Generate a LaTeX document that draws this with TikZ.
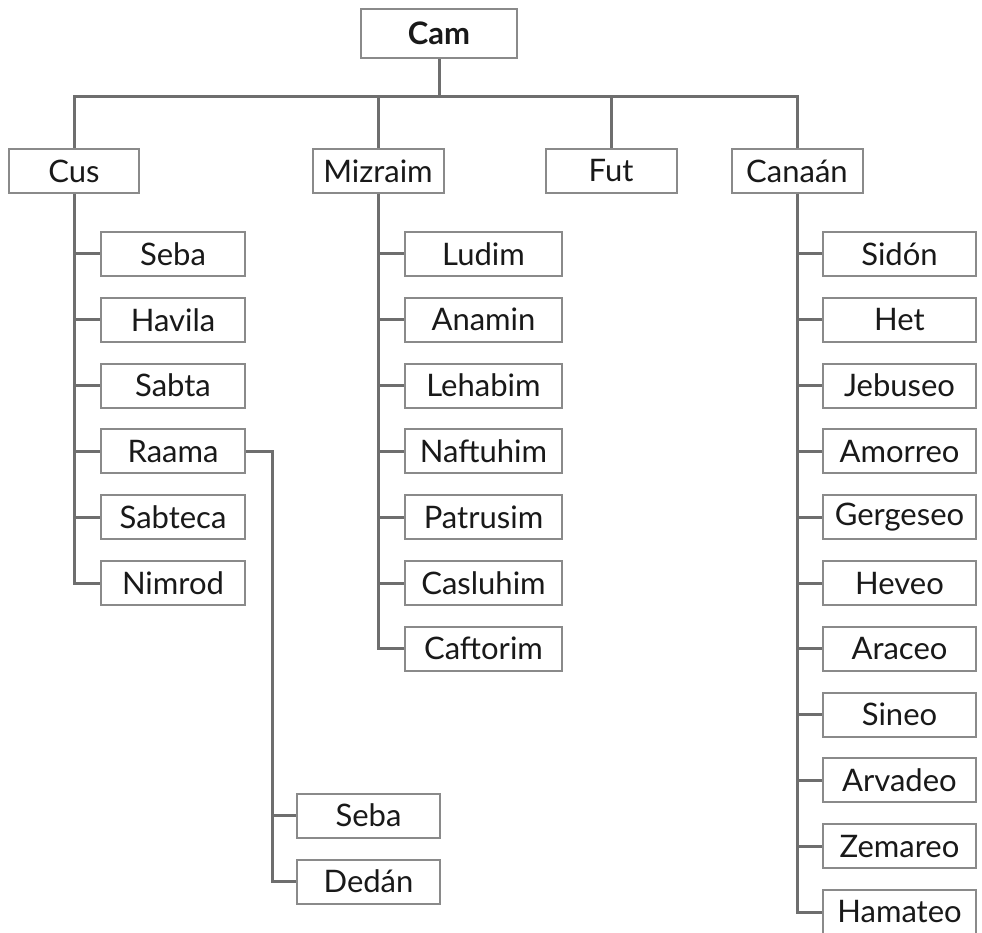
\documentclass[tikz,border=0pt]{standalone}
\usepackage{fontspec}
\setmainfont{Lato}
\begin{document}
\begin{tikzpicture}[x=1pt,y=-1pt,
  box/.style={draw=boxgray,line width=2pt,fill=white,inner sep=0pt,
    minimum height=44pt,text=black!90,font=\fontsize{31}{36}\selectfont},
  link/.style={draw=linkgray,line width=3pt}]
\definecolor{boxgray}{HTML}{8A8A8A}
\definecolor{linkgray}{HTML}{6E6E6E}
\useasboundingbox (0,0) rectangle (982,933);
\coordinate (bus) at (0,97);

% root
\node[box,minimum width=156pt,minimum height=49pt,font=\fontsize{31}{36}\selectfont\bfseries] (cam) at (439,33.5) {Cam};

% sons
\node[box,minimum width=130pt] (cus) at (74,171) {Cus};
\node[box,minimum width=131pt] (miz) at (378,171) {Mizraim};
\node[box,minimum width=131pt] (fut) at (611,171) {Fut};
\node[box,minimum width=131pt] (can) at (797,171) {Canaán};

% sons of Cus
\foreach \n/\t [count=\i from 0] in {c1/Seba,c2/Havila,c3/Sabta,c4/Raama,c5/Sabteca,c6/Nimrod}
  \node[box,minimum width=144pt] (\n) at (173,254+65.8*\i) {\t};
% sons of Raama
\node[box,minimum width=143pt] (r1) at (368.5,815.5) {Seba};
\node[box,minimum width=143pt] (r2) at (368.5,881.5) {Dedán};

% sons of Mizraim
\foreach \n/\t [count=\i from 0] in {m1/Ludim,m2/Anamin,m3/Lehabim,m4/Naftuhim,m5/Patrusim,m6/Casluhim,m7/Caftorim}
  \node[box,minimum width=157pt] (\n) at (483.5,254+65.8*\i) {\t};

% sons of Canaan
\foreach \n/\t [count=\i from 0] in {k1/Sidón,k2/Het,k3/Jebuseo,k4/Amorreo,k5/Gergeseo,k6/Heveo,k7/Araceo,k8/Sineo,k9/Arvadeo,k10/Zemareo,k11/Hamateo}
  \node[box,minimum width=153pt] (\n) at (899.5,254+65.8*\i) {\t};

% connectors: root to sons
\draw[link] (cam.south) -- (cam.south |- bus);
\draw[link] (cus.north) -- (cus.north |- bus) -- (can.north |- bus) -- (can.north);
\draw[link] (miz.north) -- (miz.north |- bus);
\draw[link] (fut.north) -- (fut.north |- bus);

% Cus branch
\draw[link] (cus.south) |- (c6.west);
\foreach \n in {c1,c2,c3,c4,c5} \draw[link] (cus.south |- \n.west) -- (\n.west);
\coordinate (rt) at (272,0);
\draw[link] (c4.east) -- (rt |- c4.east) |- (r2.west);
\draw[link] (rt |- r1.west) -- (r1.west);

% Mizraim branch
\draw[link] (miz.south) |- (m7.west);
\foreach \n in {m1,m2,m3,m4,m5,m6} \draw[link] (miz.south |- \n.west) -- (\n.west);

% Canaan branch
\draw[link] (can.south) |- (k11.west);
\foreach \n in {k1,k2,k3,k4,k5,k6,k7,k8,k9,k10} \draw[link] (can.south |- \n.west) -- (\n.west);
\end{tikzpicture}
\end{document}
